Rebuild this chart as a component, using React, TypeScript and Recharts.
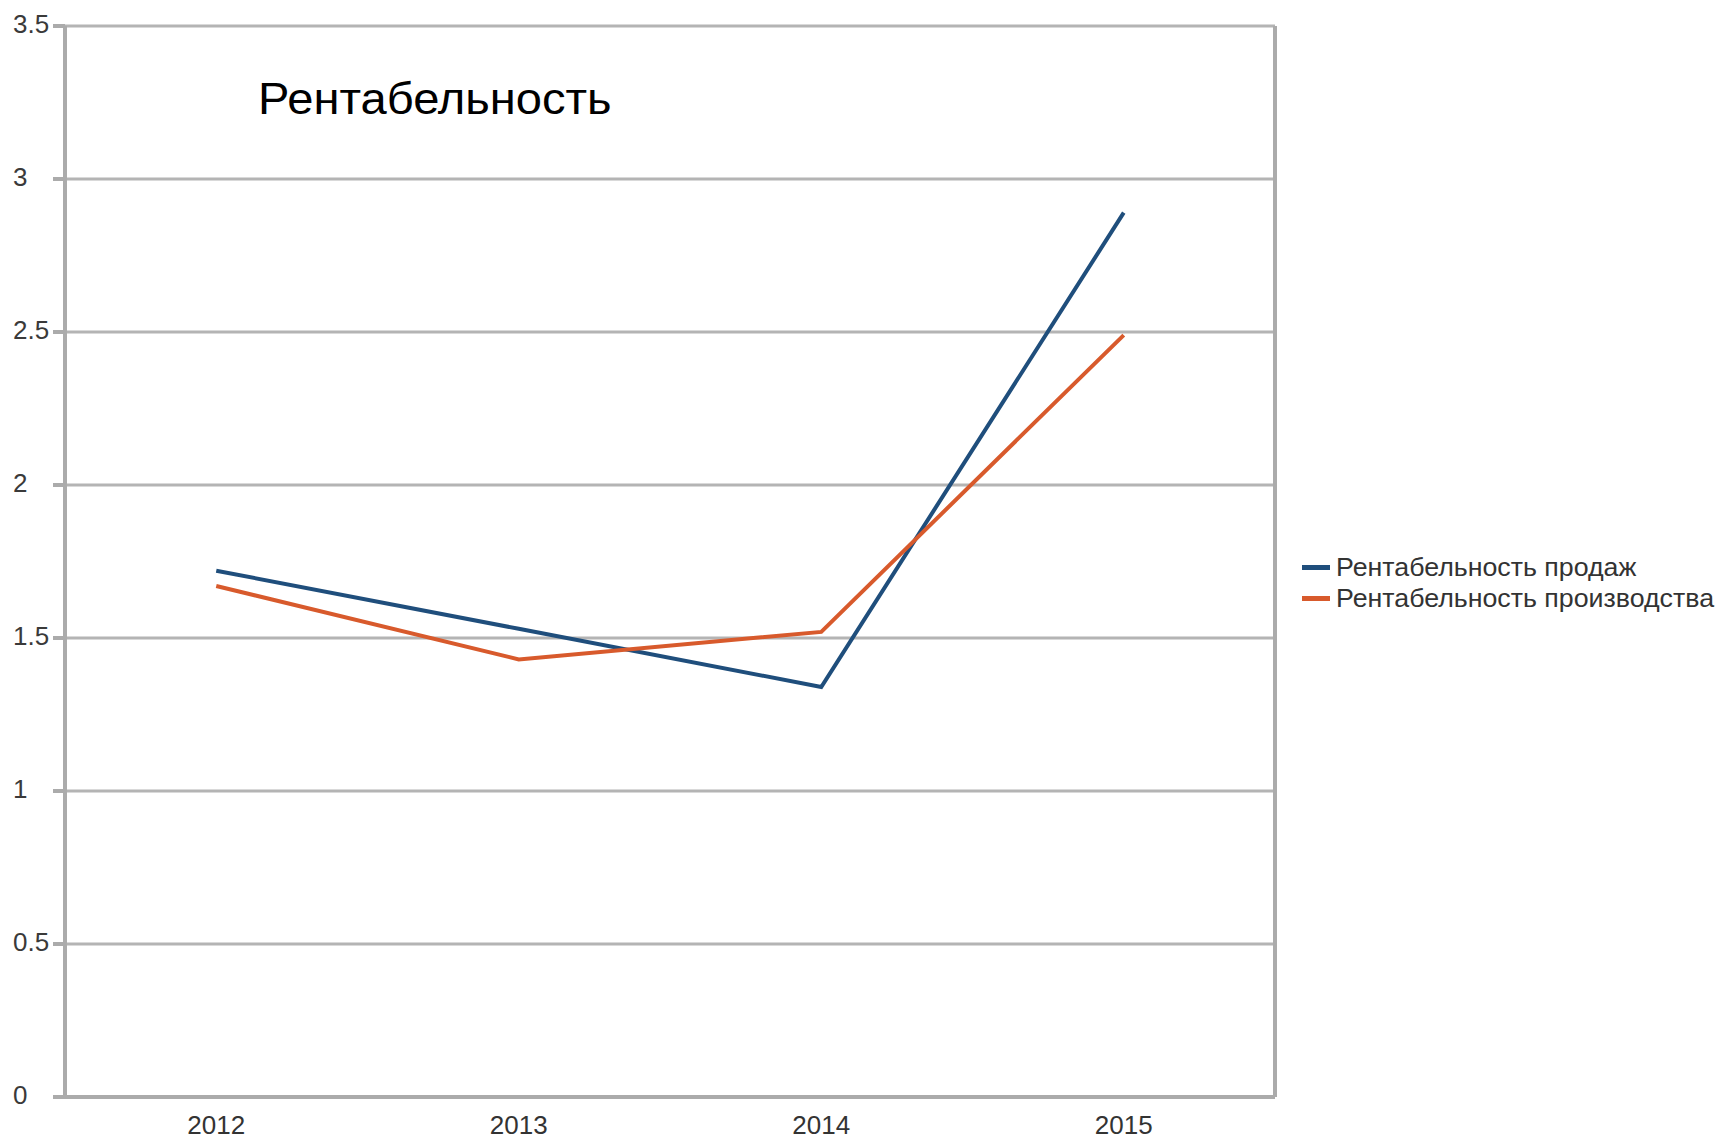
import React from 'react';
import { LineChart, Line, XAxis, YAxis, CartesianGrid, Legend, ReferenceLine } from 'recharts';

const years = ['2012', '2013', '2014', '2015'];
const salesProfitability = [1.72, 1.53, 1.34, 2.89];
const productionProfitability = [1.67, 1.43, 1.52, 2.49];
const yTicks = [0, 0.5, 1, 1.5, 2, 2.5, 3, 3.5];
// tick marks on the x axis sit between the years
const yearBounds = [-0.5, 0.5, 1.5, 2.5, 3.5];
const yearCenters = [0, 1, 2, 3];

const SERIES = [
  { key: 'sales', name: 'Рентабельность продаж', color: '#1f4e7c' },
  { key: 'production', name: 'Рентабельность производства', color: '#d85a2c' },
];

const FONT = '"Liberation Sans", Arial, sans-serif';
const AXIS = '#ababab';

const data = years.map((year, i) => ({
  x: i,
  year,
  sales: salesProfitability[i],
  production: productionProfitability[i],
}));

function YTick({ y, payload }: { y: number; payload: { value: number } }) {
  return (
    <text x={13} y={y} dy={7} textAnchor="start" fontSize={26} fontFamily={FONT} fill="#3a3a3a">
      {String(payload.value)}
    </text>
  );
}

function XTick({ x, y, payload }: { x: number; y: number; payload: { value: number } }) {
  return (
    <text x={x} y={y} dy={21} textAnchor="middle" fontSize={26} fontFamily={FONT} fill="#333">
      {years[payload.value]}
    </text>
  );
}

function LegendContent() {
  return (
    <div style={{ paddingLeft: 27, fontFamily: FONT, fontSize: 25, color: '#333', whiteSpace: 'nowrap' }}>
      {SERIES.map((s) => (
        <div key={s.key} style={{ display: 'flex', alignItems: 'center', height: 31 }}>
          <span style={{ display: 'inline-block', width: 28, height: 5, background: s.color, marginRight: 6 }} />
          <span style={{ display: 'inline-block', transform: 'scaleX(1.07)', transformOrigin: 'left center' }}>
            {s.name}
          </span>
        </div>
      ))}
    </div>
  );
}

export default function App() {
  return (
    <div style={{ position: 'absolute', left: 0, top: 0, width: 1723, height: 1139, background: '#fff' }}>
      <LineChart width={1723} height={1139} data={data} margin={{ top: 26, right: 0, bottom: 0, left: 0 }}>
        <CartesianGrid yAxisId="left" xAxisId="bounds" vertical={false} stroke="#b4b4b4" strokeWidth={3} />
        <XAxis
          xAxisId="bounds"
          type="number"
          dataKey="x"
          domain={[-0.5, 3.5]}
          ticks={yearBounds}
          tick={false}
          tickSize={10}
          height={10}
          stroke={AXIS}
          strokeWidth={4}
        />
        <XAxis
          xAxisId="labels"
          type="number"
          dataKey="x"
          domain={[-0.5, 3.5]}
          ticks={yearCenters}
          axisLine={false}
          tickLine={false}
          height={32}
          tickMargin={0}
          tick={XTick}
        />
        <YAxis
          yAxisId="left"
          width={65}
          domain={[0, 3.5]}
          ticks={yTicks}
          tickSize={12}
          stroke={AXIS}
          strokeWidth={4}
          tick={YTick}
        />
        <ReferenceLine xAxisId="bounds" yAxisId="left" x={3.5} stroke={AXIS} strokeWidth={4} />
        <Legend
          layout="vertical"
          align="right"
          verticalAlign="middle"
          width={448}
          wrapperStyle={{ left: 1275, top: 552 }}
          content={LegendContent}
        />
        {SERIES.map((s) => (
          <Line
            key={s.key}
            xAxisId="bounds"
            yAxisId="left"
            type="linear"
            dataKey={s.key}
            name={s.name}
            stroke={s.color}
            strokeWidth={4}
            dot={false}
            isAnimationActive={false}
          />
        ))}
      </LineChart>
      <div
        style={{
          position: 'absolute',
          left: 258,
          top: 77,
          fontFamily: FONT,
          fontSize: 44,
          lineHeight: '44px',
          color: '#000',
          transform: 'scaleX(1.07)',
          transformOrigin: 'left center',
        }}
      >
        Рентабельность
      </div>
    </div>
  );
}
